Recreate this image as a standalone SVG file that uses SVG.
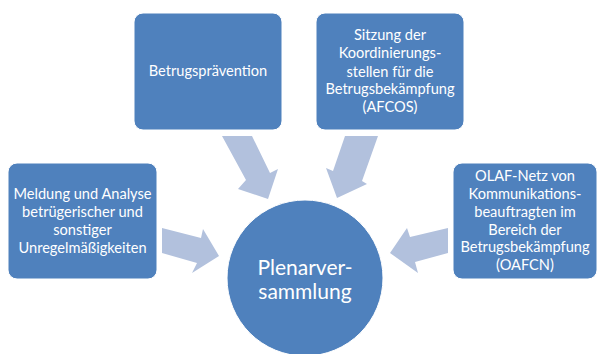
<svg xmlns="http://www.w3.org/2000/svg" width="598" height="354" viewBox="0 0 598 354">
<style>
.box{fill:#4F81BD;stroke:#FFFFFF;stroke-width:1}
.arr{fill:#B2C1DD}
.t{font-family:Lato,"Liberation Sans",sans-serif;font-size:14.6px;fill:#FFFFFF;text-anchor:middle}
.tc{font-family:Lato,"Liberation Sans",sans-serif;font-size:21px;fill:#FFFFFF;text-anchor:middle}
</style>
<rect width="598" height="354" fill="#FFFFFF"/>
<g id="connectors">
<polygon class="arr" points="222,136 252,136 270,173 278,169 268,199 238,189 246,180"/>
<polygon class="arr" points="345,136 378,136 362,181 367,184 337,198 326,168 333,171"/>
<polygon class="arr" points="162,228 201,238 203,229 219,256 192,273 197,263 162,253"/>
<polygon class="arr" points="448,228 410,237 407,228 390,253 418,273 415,262 448,253"/>
</g>
<g id="node-plenar">
<circle class="box" cx="305" cy="278" r="78"/>
<text class="tc" x="305" y="275">Plenarver-</text>
<text class="tc" x="305" y="299">sammlung</text>
</g>
<g id="node-meldung">
<rect class="box" x="8" y="163" width="149" height="116" rx="9"/>
<text class="t" x="82.5" y="199">Meldung und Analyse</text>
<text class="t" x="82.5" y="217">betrügerischer und</text>
<text class="t" x="82.5" y="235">sonstiger</text>
<text class="t" x="82.5" y="253">Unregelmäßigkeiten</text>
</g>
<g id="node-praevention">
<rect class="box" x="134" y="13" width="148" height="117" rx="9"/>
<text class="t" x="208" y="76">Betrugsprävention</text>
</g>
<g id="node-afcos">
<rect class="box" x="316" y="13" width="148" height="117" rx="9"/>
<text class="t" x="390" y="40">Sitzung der</text>
<text class="t" x="390" y="58">Koordinierungs-</text>
<text class="t" x="390" y="77">stellen für die</text>
<text class="t" x="390" y="94">Betrugsbekämpfung</text>
<text class="t" x="390" y="112">(AFCOS)</text>
</g>
<g id="node-oafcn">
<rect class="box" x="453" y="163" width="144" height="116" rx="9"/>
<text class="t" x="525" y="181">OLAF-Netz von</text>
<text class="t" x="525" y="199">Kommunikations-</text>
<text class="t" x="525" y="217">beauftragten im</text>
<text class="t" x="525" y="235">Bereich der</text>
<text class="t" x="525" y="252">Betrugsbekämpfung</text>
<text class="t" x="525" y="270">(OAFCN)</text>
</g>
</svg>
